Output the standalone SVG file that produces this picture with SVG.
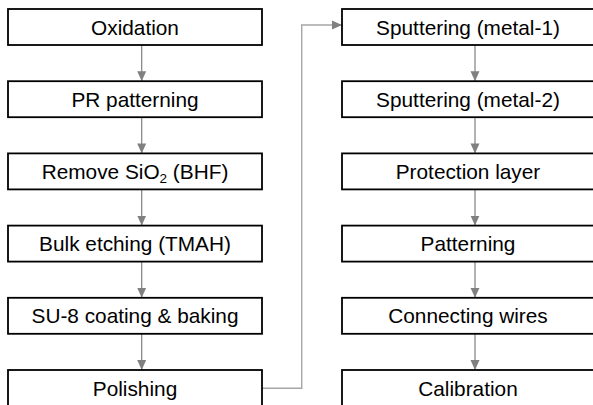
<svg xmlns="http://www.w3.org/2000/svg" width="593" height="405" viewBox="0 0 593 405">
<style>
.box{fill:#fff;stroke:#000;stroke-width:1.8}
.lbl{font-family:"Liberation Sans",Arial,sans-serif;font-size:20.8px;fill:#000;text-anchor:middle}
.arr{stroke:#808080;stroke-width:1.2;fill:none}
.link{stroke:#a6a6a6;stroke-width:1.4;fill:none}
</style>
<defs>
<marker id="ah" markerWidth="10" markerHeight="10" refX="10" refY="5" orient="auto" markerUnits="userSpaceOnUse" viewBox="0 0 10 10">
<path d="M0,0.5 L10,5 L0,9.5 Z" fill="#808080"/>
</marker>
</defs>
<rect width="593" height="405" fill="#fff"/>
<g id="connectors">
<line class="arr" x1="141.7" y1="45" x2="141.7" y2="81.2" marker-end="url(#ah)"/>
<line class="arr" x1="141.7" y1="117.2" x2="141.7" y2="153.4" marker-end="url(#ah)"/>
<line class="arr" x1="141.7" y1="189.4" x2="141.7" y2="225.6" marker-end="url(#ah)"/>
<line class="arr" x1="141.7" y1="261.6" x2="141.7" y2="297.8" marker-end="url(#ah)"/>
<line class="arr" x1="141.7" y1="333.8" x2="141.7" y2="370" marker-end="url(#ah)"/>
<line class="arr" x1="475" y1="45" x2="475" y2="81.2" marker-end="url(#ah)"/>
<line class="arr" x1="475" y1="117.2" x2="475" y2="153.4" marker-end="url(#ah)"/>
<line class="arr" x1="475" y1="189.4" x2="475" y2="225.6" marker-end="url(#ah)"/>
<line class="arr" x1="475" y1="261.6" x2="475" y2="297.8" marker-end="url(#ah)"/>
<line class="arr" x1="475" y1="333.8" x2="475" y2="370" marker-end="url(#ah)"/>
<path class="link" d="M262,388.3 H301.7 V25 H342" marker-end="url(#ah)"/>
</g>
<g id="n1"><rect class="box" x="8" y="9" width="254" height="36"/><text class="lbl" x="135" y="34.5">Oxidation</text></g>
<g id="n2"><rect class="box" x="8" y="81.2" width="254" height="36"/><text class="lbl" x="135" y="106.7">PR patterning</text></g>
<g id="n3"><rect class="box" x="8" y="153.4" width="254" height="36"/><text class="lbl" x="135" y="178.9">Remove SiO<tspan font-size="13.5px" dy="4">2</tspan><tspan dy="-4"> (BHF)</tspan></text></g>
<g id="n4"><rect class="box" x="8" y="225.6" width="254" height="36"/><text class="lbl" x="135" y="251.1">Bulk etching (TMAH)</text></g>
<g id="n5"><rect class="box" x="8" y="297.8" width="254" height="36"/><text class="lbl" x="135" y="323.3">SU-8 coating &amp; baking</text></g>
<g id="n6"><rect class="box" x="8" y="370" width="254" height="36"/><text class="lbl" x="135" y="395.5">Polishing</text></g>
<g id="n7"><rect class="box" x="342" y="9" width="254" height="36"/><text class="lbl" x="468" y="34.5">Sputtering (metal-1)</text></g>
<g id="n8"><rect class="box" x="342" y="81.2" width="254" height="36"/><text class="lbl" x="468" y="106.7">Sputtering (metal-2)</text></g>
<g id="n9"><rect class="box" x="342" y="153.4" width="254" height="36"/><text class="lbl" x="468" y="178.9">Protection layer</text></g>
<g id="n10"><rect class="box" x="342" y="225.6" width="254" height="36"/><text class="lbl" x="468" y="251.1">Patterning</text></g>
<g id="n11"><rect class="box" x="342" y="297.8" width="254" height="36"/><text class="lbl" x="468" y="323.3">Connecting wires</text></g>
<g id="n12"><rect class="box" x="342" y="370" width="254" height="36"/><text class="lbl" x="468" y="395.5">Calibration</text></g>
</svg>
